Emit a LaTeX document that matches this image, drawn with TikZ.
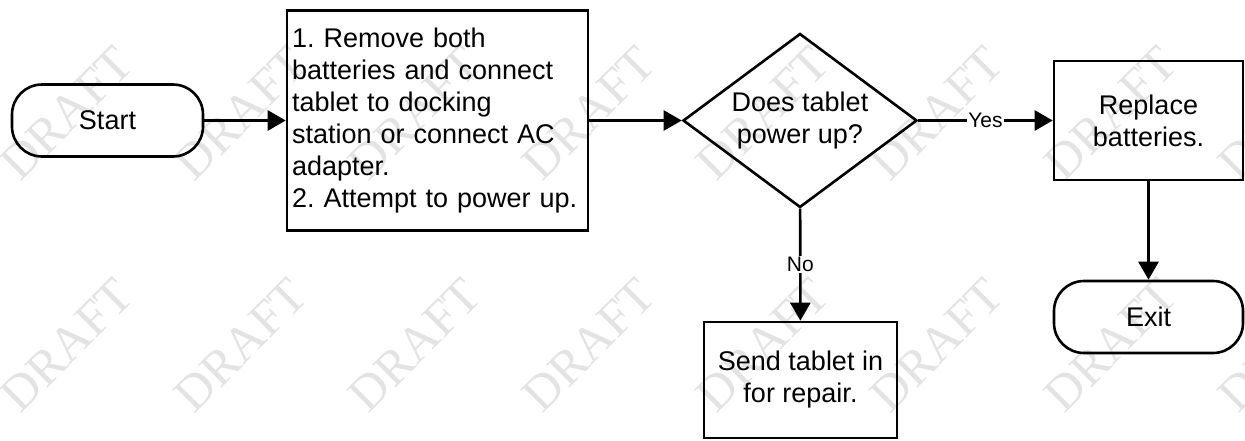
\documentclass[tikz,border=0pt]{standalone}
\usepackage{fontspec}
\setmainfont{Liberation Sans}
\newfontfamily\draftfont{Liberation Serif}
\usetikzlibrary{shapes.geometric,arrows.meta}
\frenchspacing
\newcommand\DraftX{67}
\newcommand\DraftDX{174}
\newcommand\MidY{120.5}
\tikzset{
  flow/.style={
    line width = 2.6pt,
    -{Triangle[length=18pt,width=20pt]}
  },
}
\tikzset{
  process/.style={
    shape = rectangle,
    draw,
    line width = 2.6pt,
    inner sep = 4pt,
    align = center,
    font = \fontsize{27}{32}\selectfont
  },
}
\tikzset{
  terminal/.style={
    process,
    rounded corners = 30pt,
    minimum height = 72pt
  },
}
\tikzset{
  decision/.style={
    process,
    shape = diamond,
    aspect = 1.345,
    inner sep = 0pt
  },
  branch/.style={
    fill = white,
    inner sep = 1pt,
    font = \fontsize{21}{24}\selectfont
  },
  watermark/.style={
    rotate = 45,
    text = black!11,
    font = \draftfont\fontsize{50}{50}\selectfont
  }
}

\begin{document}
\begin{tikzpicture}[x=1pt,y=-1pt]
    \useasboundingbox (0,0) rectangle (1245,440);
    % DRAFT marks
    \foreach \col in {0,...,7}
      \foreach \row in {113,345}
        \node[watermark] (draft-\col-\row) at (\DraftX+\col*\DraftDX,\row) {DRAFT};

    \node[terminal, minimum width=191pt] (start) at (107.5,\MidY) {Start};
    \node[process, minimum width=301pt, minimum height=220pt, text width=291pt, align=left] (remove) at (437.5,\MidY)
      {1. Remove both\\batteries and connect\\tablet to docking\\station or connect AC\\adapter.\\2. Attempt to power up.};
    \node[decision, minimum width=234pt, minimum height=174pt] (power) at (800,\MidY) {Does tablet\\power up?};
    \node[process, minimum width=189pt, minimum height=119pt] (replace) at (1148.5,\MidY) {Replace\\batteries.};
    \node[terminal, minimum width=189pt] (exit) at (1148.5,317) {Exit};
    \node[process, minimum width=193pt, minimum height=116pt] (repair) at (800.5,380) {Send tablet in\\for repair.};

    \draw[flow] (start) -- (remove);
    \draw[flow] (remove) -- (power);
    \draw[flow] (power) -- node[branch] (yes) {Yes} (replace);
    \draw[flow] (power) -- node[branch] (no) {No} (repair);
    \draw[flow] (replace) -- (exit);
\end{tikzpicture}
\end{document}
